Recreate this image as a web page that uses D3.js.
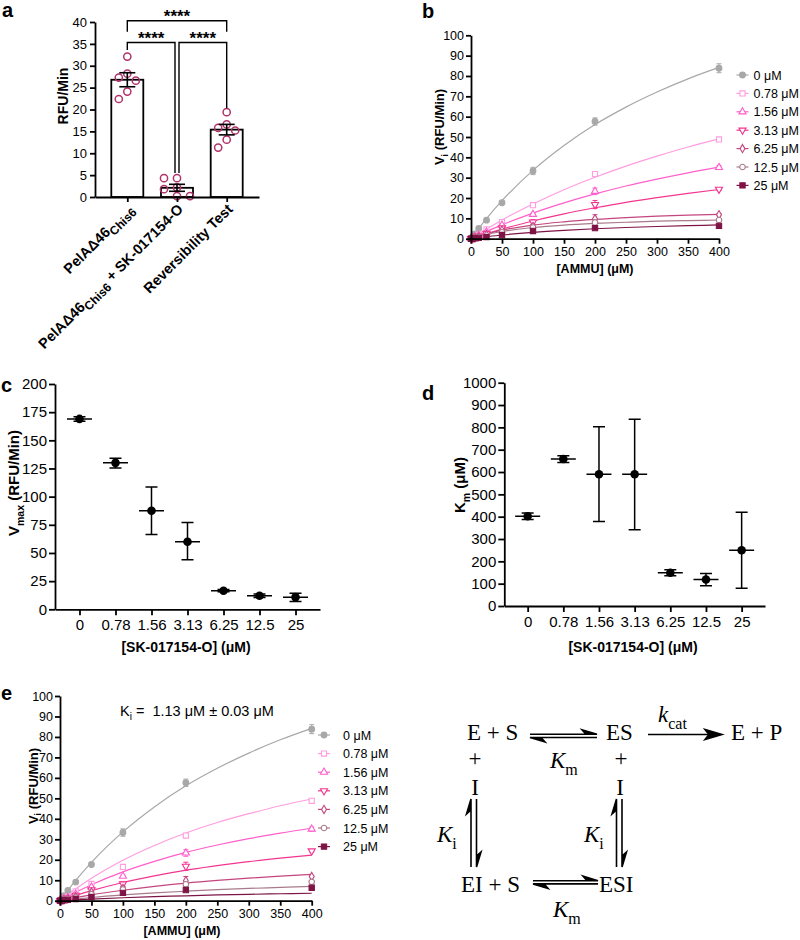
<!DOCTYPE html>
<html>
<head>
<meta charset="utf-8">
<script src="https://cdn.jsdelivr.net/npm/d3@7"></script>
<style>
  body { margin: 0; background: #fff; }
  svg { font-family: "Liberation Sans", Arial, sans-serif; }
  .axis path, .axis line { stroke: #000; stroke-width: 1.8; }
  .axis text { fill: #000; }
  .serif { font-family: "Liberation Serif", "Times New Roman", serif; }
</style>
</head>
<body>
<svg id="fig" width="800" height="940"></svg>
<script>
// panel a - activity bars
const groupLabels = [
  [['PelAΔ46', ''], ['Chis6', 's']],
  [['PelAΔ46', ''], ['Chis6', 's'], [' + SK-017154-O', '']],
  [['Reversibility Test', '']],
]
const groupPoints = [
  [32.1, 28.2, 27.3, 26.6, 24.1, 22.4],
  [4.3, 4.3, 2.2, 0.2, 1.8, 0.2],
  [19.4, 16.6, 15.8, 15.2, 13.1, 11.3],
]
const groupMean = [26.8, 2.1, 15.4]
const groupSem = [1.6, 0.8, 1.2]
const sigPairs = [[0, 2], [0, 1], [1, 2]]
const sigHeight = [40.3, 35.3, 35.3]
const sigLegs = [[37.8, 37.8], [33.6, 5.5], [5.5, 20.3]]
const sigText = ['****', '****', '****']

// panels b, e - rate vs substrate
const ammu = [0, 3.125, 6.25, 12.5, 25, 50, 100, 200, 400]
const inhibLabels = ['0 μM', '0.78 μM', '1.56 μM', '3.13 μM', '6.25 μM', '12.5 μM', '25 μM']
const rates = [
  [0.3, 1.2, 2.4, 5.0, 9.1, 17.7, 33.3, 57.6, 83.8],
  [0.1, 0.5, 1.0, 2.0, 4.6, 8.2, 16.5, 31.8, 48.8],
  [0.1, 0.4, 0.8, 1.6, 3.3, 6.7, 12.0, 23.3, 35.0],
  [0.1, 0.3, 0.6, 1.3, 2.6, 5.3, 8.2, 16.8, 24.3],
  [0.0, 0.2, 0.5, 1.0, 2.0, 4.2, 6.0, 9.8, 11.8],
  [0.0, 0.2, 0.4, 0.8, 1.6, 3.2, 5.5, 8.0, 9.2],
  [0.0, 0.1, 0.2, 0.4, 0.8, 1.8, 3.8, 5.2, 6.3],
]
const rateErr = [
  [0, 0, 0, 0.3, 0.4, 0.5, 1.8, 1.8, 2.2],
  [0, 0, 0, 0, 0, 0.3, 0.4, 0.5, 0.6],
  [0, 0, 0, 0, 0, 0.3, 0.5, 1.6, 1.0],
  [0, 0, 0, 0, 0, 0.3, 1.2, 2.0, 0.5],
  [0, 0, 0, 0, 0, 0.3, 1.0, 2.0, 0.5],
  [0, 0, 0, 0, 0, 0.2, 0.6, 1.0, 0.6],
  [0, 0, 0, 0, 0, 0, 0, 0, 0],
]
const fitX = [0, 12.5, 25, 50, 100, 150, 200, 250, 300, 350, 400]
// separate fits (b)
const fitsB = [
  [0, 5.1, 9.9, 18.7, 33.6, 45.8, 56.1, 64.7, 72.1, 78.6, 84.2],
  [0, 2.4, 4.7, 9.2, 17.1, 24.1, 30.2, 35.7, 40.6, 45.1, 49.1],
  [0, 1.8, 3.5, 6.8, 12.6, 17.6, 22.0, 25.9, 29.3, 32.4, 35.2],
  [0, 1.2, 2.4, 4.7, 8.7, 12.2, 15.2, 17.9, 20.2, 22.3, 24.2],
  [0, 1.3, 2.4, 4.2, 6.7, 8.3, 9.5, 10.4, 11.1, 11.6, 12.0],
  [0, 1.1, 2.1, 3.5, 5.5, 6.7, 7.5, 8.1, 8.6, 8.9, 9.2],
  [0, 0.5, 1.0, 1.8, 3.1, 4.1, 4.9, 5.5, 6.0, 6.4, 6.8],
]
// global noncompetitive fit (e)
const fitsE = [
  [0, 5.1, 9.9, 18.7, 33.6, 45.8, 56.1, 64.7, 72.1, 78.6, 84.2],
  [0, 3.0, 5.8, 11.0, 19.8, 27.0, 33.1, 38.2, 42.5, 46.4, 49.7],
  [0, 2.1, 4.1, 7.8, 14.1, 19.2, 23.6, 27.2, 30.3, 33.0, 35.4],
  [0, 1.35, 2.6, 4.9, 8.9, 12.1, 14.9, 17.1, 19.1, 20.8, 22.3],
  [0, 0.8, 1.5, 2.85, 5.1, 7.0, 8.6, 9.9, 11.0, 12.0, 12.9],
  [0, 0.4, 0.8, 1.55, 2.8, 3.8, 4.65, 5.4, 6.0, 6.5, 7.0],
  [0, 0.2, 0.4, 0.8, 1.45, 2.0, 2.4, 2.8, 3.1, 3.4, 3.65],
]
const seriesColors = ['#a8a8a8', '#ff9de0', '#ff5fcc', '#f23590', '#c4467f', '#a87a8b', '#7e1446']
const seriesSymbols = ['circle', 'square', 'triangle', 'triangleDown', 'diamond', 'circleOpen', 'squareFilled']

// panels c, d - fitted parameters
const inhibConc = ['0', '0.78', '1.56', '3.13', '6.25', '12.5', '25']
const vmax = [169, 130, 87.5, 60, 16.5, 12, 10.8]
const vmaxLo = [167, 125.5, 66.5, 44, 15.5, 10.5, 7]
const vmaxHi = [171, 134, 108.5, 77, 17.5, 13.5, 14.2]
const km = [402, 658, 590, 590, 149, 119, 250]
const kmLo = [387, 643, 378, 342, 135, 91, 80]
const kmHi = [416, 673, 803, 836, 162, 146, 420]

const svg = d3.select('#fig')

// text with sub/italic parts
function rich(sel, parts, size, subSize) {
  let down = false
  parts.forEach(([t, f]) => {
    const ts = sel.append('tspan').text(t)
    const sub = f.includes('s')
    if (sub && !down) { ts.attr('dy', size * 0.3); down = true }
    else if (!sub && down) { ts.attr('dy', -size * 0.3); down = false }
    if (sub) ts.attr('font-size', subSize)
    if (f.includes('i')) ts.attr('font-style', 'italic')
  })
  return sel
}

function styleAxis(g, fs) {
  g.attr('class', 'axis').attr('font-family', null).attr('font-size', fs)
  return g
}

function panelLabel(t, x, y) {
  svg.append('text').attr('x', x).attr('y', y).attr('font-size', 20)
    .attr('font-weight', 'bold').text(t)
}

// Panel a
// =========
{
  const x = d3.scalePoint().domain(d3.range(3)).range([95, 259]).padding(0.65)
  const y = d3.scaleLinear().domain([0, 40]).range([197, 22])
  const g = svg.append('g')
  const bw = 32

  g.selectAll('rect').data(groupMean).join('rect')
    .attr('x', (d, i) => x(i) - bw / 2).attr('width', bw)
    .attr('y', d => y(d)).attr('height', d => y(0) - y(d))
    .attr('fill', '#fff').attr('stroke', '#000').attr('stroke-width', 1.8)

  // swarm points
  const r = 3.6
  groupPoints.forEach((vals, i) => {
    const placed = []
    vals.forEach(v => {
      const py = y(v)
      let px = x(i)
      for (const dx of [0, -8.5, 8.5, -4, 4, -13, 13]) {
        if (placed.every(p => Math.hypot(p[0] - (x(i) + dx), p[1] - py) > 2 * r + 1.5)) { px = x(i) + dx; break }
      }
      placed.push([px, py])
    })
    g.append('g').selectAll('circle').data(placed).join('circle')
      .attr('cx', d => d[0]).attr('cy', d => d[1]).attr('r', r)
      .attr('fill', 'none').attr('stroke', '#b2336b').attr('stroke-width', 1.5)
  })

  // mean +- sem
  groupMean.forEach((m, i) => {
    const eg = g.append('g').attr('stroke', '#000').attr('stroke-width', 1.6)
    eg.append('line').attr('x1', x(i)).attr('x2', x(i)).attr('y1', y(m - groupSem[i])).attr('y2', y(m + groupSem[i]))
    ;[m - groupSem[i], m + groupSem[i]].forEach(v => eg.append('line')
      .attr('x1', x(i) - 8).attr('x2', x(i) + 8).attr('y1', y(v)).attr('y2', y(v)))
  })

  styleAxis(g.append('g').attr('transform', 'translate(95,0)')
    .call(d3.axisLeft(y).tickValues(d3.range(0, 41, 5)).tickSize(5).tickPadding(3).tickSizeOuter(0)), 13)
  styleAxis(g.append('g').attr('transform', `translate(0,${y(0)})`)
    .call(d3.axisBottom(x).tickSize(5).tickSizeOuter(0).tickFormat('')), 13)

  // rotated category labels
  groupLabels.forEach((parts, i) => {
    const t = g.append('text').attr('text-anchor', 'end').attr('font-weight', 'bold')
      .attr('font-size', 14.5)
      .attr('transform', `translate(${x(i) + 7},${y(0) + 13}) rotate(-45)`)
    rich(t, parts, 14.5, 12)
  })

  // significance brackets
  sigPairs.forEach(([a, b], k) => {
    const xa = x(a) + (a === 1 ? 2 : 0), xb = x(b) - (b === 1 ? 2 : 0)
    const yy = y(sigHeight[k])
    g.append('path').attr('fill', 'none').attr('stroke', '#000').attr('stroke-width', 1.4)
      .attr('d', `M${xa},${y(sigLegs[k][0])}V${yy}H${xb}V${y(sigLegs[k][1])}`)
    g.append('text').attr('x', (xa + xb) / 2).attr('y', yy + 1).attr('text-anchor', 'middle')
      .attr('font-size', 17).attr('font-weight', 'bold').text(sigText[k])
  })

  rich(g.append('text').attr('transform', 'translate(68,96) rotate(-90)').attr('text-anchor', 'middle')
    .attr('font-weight', 'bold').attr('font-size', 14), [['RFU/Min', '']], 14, 10)
  panelLabel('a', 2, 17)
}

// Panels b & e
// ============
const symbolSizes = { circle: 26, circleOpen: 24, square: 26, squareFilled: 28, triangle: 22, triangleDown: 22, diamond: 20 }
function drawSymbol(g, name, color, cx, cy) {
  const t = { circle: d3.symbolCircle, circleOpen: d3.symbolCircle, square: d3.symbolSquare,
    squareFilled: d3.symbolSquare, triangle: d3.symbolTriangle, triangleDown: d3.symbolTriangle,
    diamond: d3.symbolDiamond }[name]
  const filled = name === 'circle' || name === 'squareFilled'
  g.append('path').attr('d', d3.symbol().type(t).size(symbolSizes[name])())
    .attr('transform', `translate(${cx},${cy})` + (name === 'triangleDown' ? ' rotate(180)' : ''))
    .attr('fill', filled ? color : '#fff').attr('stroke', color).attr('stroke-width', 1.1)
}

function kinetics(cfg) {
  const x = d3.scaleLinear().domain([0, 400]).range(cfg.xr)
  const y = d3.scaleLinear().domain([0, 100]).range(cfg.yr)
  const g = svg.append('g')

  const line = d3.line().x((d, i) => x(fitX[i])).y(d => y(d)).curve(d3.curveMonotoneX)
  g.append('g').selectAll('path').data(cfg.fits).join('path')
    .attr('d', line).attr('fill', 'none')
    .attr('stroke', (d, i) => seriesColors[i]).attr('stroke-width', 1.2)

  rates.forEach((s, i) => {
    const sg = g.append('g')
    s.forEach((v, j) => {
      const e = rateErr[i][j]
      if (e > 0) {
        sg.append('path').attr('fill', 'none').attr('stroke', seriesColors[i]).attr('stroke-width', 1)
          .attr('d', `M${x(ammu[j]) - 2.5},${y(v + e)}h5M${x(ammu[j])},${y(v + e)}V${y(v - e)}M${x(ammu[j]) - 2.5},${y(v - e)}h5`)
      }
      drawSymbol(sg, seriesSymbols[i], seriesColors[i], x(ammu[j]), y(v))
    })
  })

  styleAxis(g.append('g').attr('transform', `translate(0,${cfg.yr[0]})`)
    .call(d3.axisBottom(x).tickValues(d3.range(0, 401, 50)).tickSize(5).tickPadding(3).tickSizeOuter(0)), 12.5)
  styleAxis(g.append('g').attr('transform', `translate(${cfg.xr[0]},0)`)
    .call(d3.axisLeft(y).tickValues(d3.range(0, 101, 10)).tickSize(5).tickPadding(2).tickSizeOuter(0)), 12.5)

  g.append('text').attr('x', cfg.xTitle[0]).attr('y', cfg.xTitle[1]).attr('text-anchor', 'middle')
    .attr('font-size', 12.5).attr('font-weight', 'bold').text('[AMMU] (μM)')
  rich(g.append('text').attr('transform', `translate(${cfg.yTitle[0]},${cfg.yTitle[1]}) rotate(-90)`)
    .attr('text-anchor', 'middle').attr('font-weight', 'bold').attr('font-size', 13),
    [['V', ''], ['i', 's'], [' (RFU/Min)', '']], 13, 9)

  // legend
  inhibLabels.forEach((lab, i) => {
    const ly = cfg.legend[1] + i * cfg.legend[2]
    const lx = cfg.legend[0]
    g.append('line').attr('x1', lx).attr('x2', lx + 12).attr('y1', ly).attr('y2', ly)
      .attr('stroke', seriesColors[i]).attr('stroke-width', 1.2)
    drawSymbol(g, seriesSymbols[i], seriesColors[i], lx + 6, ly)
    g.append('text').attr('x', lx + cfg.legend[3]).attr('y', ly).attr('dy', '0.36em')
      .attr('font-size', 12.5).text(lab)
  })
  return g
}

kinetics({ xr: [471, 719], yr: [238.7, 35.3], fits: fitsB,
  xTitle: [595, 273], yTitle: [444, 127], legend: [736.5, 75, 18.4, 17] })
panelLabel('b', 422, 18)

const ge = kinetics({ xr: [60, 311.7], yr: [900.7, 696], fits: fitsE,
  xTitle: [182, 935], yTitle: [37.5, 786], legend: [318, 735, 18.6, 25] })
rich(ge.append('text').attr('x', 120).attr('y', 716).attr('font-size', 14.5),
  [['K', ''], ['i', 's'], [' =\u00a0 1.13 μM ± 0.03 μM', '']], 14.5, 10)
panelLabel('e', 1, 700)

// Panels c & d
// ============
function params(cfg) {
  const x = d3.scalePoint().domain(inhibConc).range(cfg.xr).padding(cfg.pad)
  const y = d3.scaleLinear().domain(cfg.dom).range(cfg.yr)
  const g = svg.append('g')

  const rows = inhibConc.map((c, i) => ({ c, v: cfg.vals[i], lo: cfg.lo[i], hi: cfg.hi[i] }))
  const eg = g.append('g').attr('stroke', '#000').attr('stroke-width', 1.5).attr('fill', 'none')
  eg.selectAll('path').data(rows).join('path')
    .attr('d', d => `M${x(d.c)},${y(d.lo)}V${y(d.hi)}M${x(d.c) - 6},${y(d.lo)}h12M${x(d.c) - 6},${y(d.hi)}h12M${x(d.c) - 12.5},${y(d.v)}h25`)
  g.selectAll('circle').data(rows).join('circle')
    .attr('cx', d => x(d.c)).attr('cy', d => y(d.v)).attr('r', 4.3).attr('fill', '#000')

  styleAxis(g.append('g').attr('transform', `translate(0,${cfg.yr[0]})`)
    .call(d3.axisBottom(x).tickSize(6).tickPadding(4).tickSizeOuter(0)), 15)
  styleAxis(g.append('g').attr('transform', `translate(${cfg.xr[0]},0)`)
    .call(d3.axisLeft(y).tickValues(cfg.ticks).tickFormat(d3.format('d')).tickSize(6).tickPadding(2).tickSizeOuter(0)), 15)

  g.append('text').attr('x', cfg.xTitle[0]).attr('y', cfg.xTitle[1]).attr('text-anchor', 'middle')
    .attr('font-size', 14).attr('font-weight', 'bold').text('[SK-017154-O] (μM)')
  rich(g.append('text').attr('transform', `translate(${cfg.yTitle[0]},${cfg.yTitle[1]}) rotate(-90)`)
    .attr('text-anchor', 'middle').attr('font-weight', 'bold').attr('font-size', 15),
    cfg.yParts, 15, 10.5)
}

params({ xr: [55, 320], yr: [609.3, 384], pad: 0.68, dom: [0, 200], ticks: d3.range(0, 201, 25),
  vals: vmax, lo: vmaxLo, hi: vmaxHi, xTitle: [186, 652], yTitle: [19, 483],
  yParts: [['V', ''], ['max', 's'], [' (RFU/Min)', '']] })
panelLabel('c', 1, 392)

params({ xr: [504.3, 765], yr: [606, 382.7], pad: 0.655, dom: [0, 1000], ticks: d3.range(0, 1001, 100),
  vals: km, lo: kmLo, hi: kmHi, xTitle: [633, 652], yTitle: [465, 485],
  yParts: [['K', ''], ['m', 's'], [' (μM)', '']] })
panelLabel('d', 422, 400)

// Panel f - scheme
// ================
{
  const fs = 23
  const g = svg.append('g').attr('class', 'serif').attr('font-size', fs)
  const txt = (x, y, parts, anchor) => rich(g.append('text').attr('x', x).attr('y', y)
    .attr('text-anchor', anchor || 'start'), parts, fs, 16)
  txt(467, 740, [['E + S', '']])
  txt(606, 740, [['ES', '']])
  txt(731, 740, [['E + P', '']])
  txt(658, 722, [['k', 'i'], ['cat', 's']])
  txt(550, 768, [['K', 'i'], ['m', 's']])
  txt(475, 766, [['+', '']], 'middle')
  txt(621, 766, [['+', '']], 'middle')
  txt(475, 795, [['I', '']], 'middle')
  txt(620, 795, [['I', '']], 'middle')
  txt(437, 842, [['K', 'i'], ['i', 's']])
  txt(584, 842, [['K', 'i'], ['i', 's']])
  txt(461, 892, [['EI + S', '']])
  txt(599, 892, [['ESI', '']])
  txt(553, 917, [['K', 'i'], ['m', 's']])

  const st = { stroke: '#000', 'stroke-width': 1.6, fill: '#000' }
  const draw = d => { const p = g.append('path').attr('d', d); Object.entries(st).forEach(([k, v]) => p.attr(k, v)) }
  // horizontal equilibria
  ;[[530, 597, 734.3], [533, 598, 880.7]].forEach(([a, b, yy]) => {
    draw(`M${a},${yy}H${b}L${b - 15},${yy - 4.5}L${b - 11},${yy}Z`)
    draw(`M${b},${yy + 3.2}H${a}L${a + 15},${yy + 7.7}L${a + 11},${yy + 3.2}Z`)
  })
  // vertical equilibria
  ;[[471, 799, 867], [616.5, 799, 867]].forEach(([xx, a, b]) => {
    draw(`M${xx},${b}V${a}L${xx - 4.5},${a + 15}L${xx},${a + 11}Z`)
    draw(`M${xx + 5.5},${a}V${b}L${xx + 10},${b - 15}L${xx + 5.5},${b - 11}Z`)
  })
  // kcat arrow
  draw(`M648,734.5H718`)
  draw(`M722,734.5L705,729.5L709,734.5L705,739.5Z`)
}
</script>
</body>
</html>
